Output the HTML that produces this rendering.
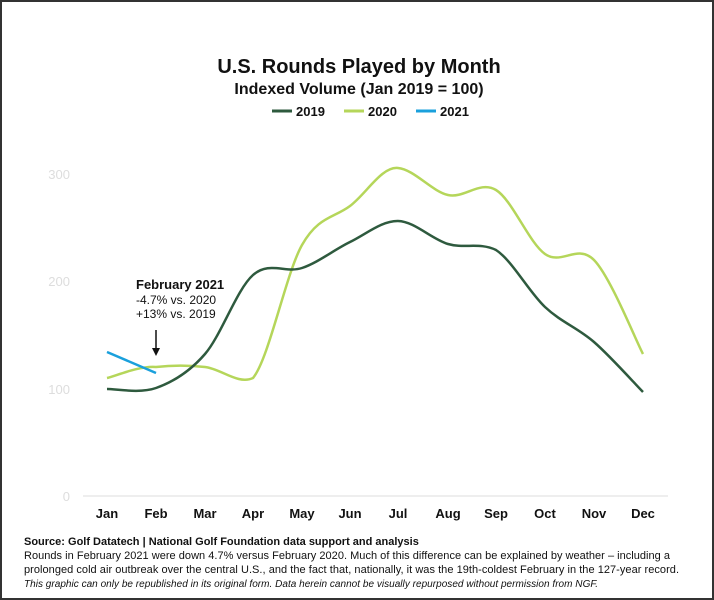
<!DOCTYPE html>
<html><head><meta charset="utf-8"><style>
body{margin:0;background:#fff}
#w{position:relative;width:710px;height:596px;border:2px solid #333;border-right-width:2px;background:#fff;overflow:hidden;font-family:"Liberation Sans",sans-serif}
.t{position:absolute;white-space:nowrap}
</style></head><body><div id="w">
<svg width="710" height="596" style="position:absolute;left:-2px;top:-2px;overflow:visible">
<g font-family="Liberation Sans, sans-serif">
<text x="359" y="73" text-anchor="middle" font-size="20" font-weight="bold" fill="#111">U.S. Rounds Played by Month</text>
<text x="359" y="94" text-anchor="middle" font-size="16" font-weight="bold" fill="#111">Indexed Volume (Jan 2019 = 100)</text>
<line x1="272" y1="111" x2="292" y2="111" stroke="#2e5a3e" stroke-width="3"/><text x="296" y="116" font-size="13" font-weight="bold" fill="#111">2019</text>
<line x1="344" y1="111" x2="364" y2="111" stroke="#b5d65a" stroke-width="3"/><text x="368" y="116" font-size="13" font-weight="bold" fill="#111">2020</text>
<line x1="416" y1="111" x2="436" y2="111" stroke="#1aa0dc" stroke-width="3"/><text x="440" y="116" font-size="13" font-weight="bold" fill="#111">2021</text>
<g font-size="13" fill="#ddd" text-anchor="end"><text x="70" y="179">300</text><text x="70" y="286">200</text><text x="70" y="394">100</text><text x="70" y="501">0</text></g>
<line x1="83" y1="496" x2="668" y2="496" stroke="#ddd" stroke-width="1"/>
<g font-size="13" font-weight="bold" fill="#111" text-anchor="middle">
<text x="107" y="518">Jan</text><text x="156" y="518">Feb</text><text x="205" y="518">Mar</text><text x="253" y="518">Apr</text><text x="302" y="518">May</text><text x="350" y="518">Jun</text><text x="398" y="518">Jul</text><text x="448" y="518">Aug</text><text x="496" y="518">Sep</text><text x="545" y="518">Oct</text><text x="594" y="518">Nov</text><text x="643" y="518">Dec</text></g>
<path fill="none" stroke="#b5d65a" stroke-width="2.5" d="M107,378 C115.2,376.2 139.7,365.5 156,367 C172.3,365.2 188.8,365.2 205,367 C221.2,368.8 238,385 253,378 C269.2,358.3 285.8,273.7 302,245 C318.2,216.3 333.7,218.2 350,206 C366.3,193.8 381.7,166.2 398,168 C414.3,169.5 431.7,191.3 448,195 C464.3,198.7 479.8,180.2 496,190 C512.2,199.8 528.7,242.3 545,254 C561.3,265.7 577.7,243.3 594,260 C610.3,276.7 634.8,338.3 643,354"/>
<path fill="none" stroke="#2e5a3e" stroke-width="2.5" d="M107,389 C115.2,388.8 139.7,393.8 156,388 C172.3,382.2 188.8,372.8 205,354 C221.2,335.2 236.8,289.3 253,275 C269.2,260.7 285.8,273.5 302,268 C318.2,262.5 334,249.8 350,242 C366,234.2 381.7,220.7 398,221 C414.3,221.3 431.7,239.2 448,244 C464.3,248.8 479.8,242 496,250 C512.2,260.5 528.7,291.7 545,307 C561.3,322.3 577.7,327.8 594,342 C610.3,356.2 634.8,383.7 643,392"/>
<line x1="107" y1="352" x2="156" y2="373" stroke="#1aa0dc" stroke-width="2.5"/>
<text x="136" y="289" font-size="13" font-weight="bold" fill="#111">February 2021</text>
<text x="136" y="304" font-size="12" fill="#111">-4.7% vs. 2020</text>
<text x="136" y="318" font-size="12" fill="#111">+13% vs. 2019</text>
<line x1="156" y1="330" x2="156" y2="350" stroke="#111" stroke-width="1.5"/>
<path d="M152,348 L160,348 L156,356 Z" fill="#111"/>
<text x="24" y="545" font-size="11" font-weight="bold" fill="#111">Source: Golf Datatech | National Golf Foundation data support and analysis</text>
<text x="24" y="559" font-size="11" fill="#111" textLength="646">Rounds in February 2021 were down 4.7% versus February 2020. Much of this difference can be explained by weather – including a</text>
<text x="24" y="573" font-size="11" fill="#111" textLength="655">prolonged cold air outbreak over the central U.S., and the fact that, nationally, it was the 19th-coldest February in the 127-year record.</text>
<text x="24" y="587" font-size="10" font-style="italic" fill="#111" textLength="574">This graphic can only be republished in its original form. Data herein cannot be visually repurposed without permission from NGF.</text>
</g></svg>
</div></body></html>
